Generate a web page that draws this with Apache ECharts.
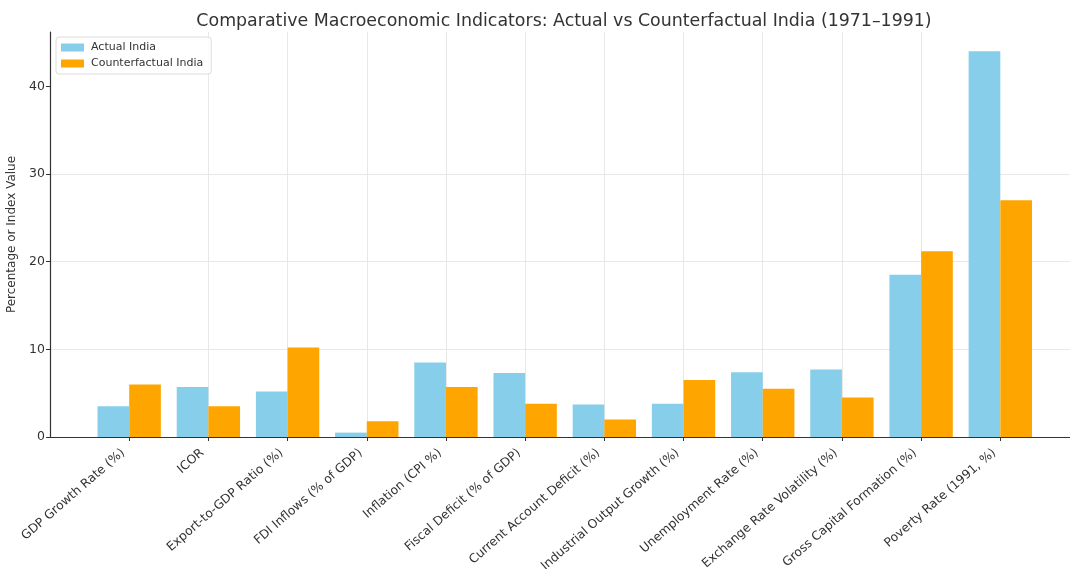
<!DOCTYPE html>
<html>
<head>
<meta charset="utf-8">
<script src="https://cdn.jsdelivr.net/npm/echarts@6/dist/echarts.min.js"></script>
<style>
html,body{margin:0;padding:0;background:#fff;}
#chart{width:1070px;height:569px;}
</style>
</head>
<body>
<div id="chart"></div>
<script>
var categories = [
  "GDP Growth Rate (%)", "ICOR", "Export-to-GDP Ratio (%)", "FDI Inflows (% of GDP)",
  "Inflation (CPI %)", "Fiscal Deficit (% of GDP)", "Current Account Deficit (%)",
  "Industrial Output Growth (%)", "Unemployment Rate (%)", "Exchange Rate Volatility (%)",
  "Gross Capital Formation (%)", "Poverty Rate (1991, %)"
];
var actualIndia = [3.5, 5.7, 5.2, 0.5, 8.5, 7.3, 3.7, 3.8, 7.4, 7.7, 18.5, 44.0];
var counterfactualIndia = [6.0, 3.5, 10.2, 1.8, 5.7, 3.8, 2.0, 6.5, 5.5, 4.5, 21.2, 27.0];
var yTicks = [0, 10, 20, 30, 40];
var seriesNames = ["Actual India", "Counterfactual India"];

var FONT = "DejaVu Sans";
var tickIdx = categories.map(function (c, i) { return i; });

function toPairs(arr) { return arr.map(function (v, i) { return [i, v]; }); }

var chart = echarts.init(document.getElementById('chart'), null, { renderer: 'canvas' });
chart.setOption({
  animation: false,
  backgroundColor: '#ffffff',
  title: {
    text: "Comparative Macroeconomic Indicators: Actual vs Counterfactual India (1971\u20131991)",
    left: 559, textAlign: 'center', top: 8,
    textStyle: { fontFamily: FONT, fontSize: 17.4, fontWeight: 'normal', color: '#333' }
  },
  legend: {
    orient: 'vertical', left: 56, top: 37,
    data: seriesNames,
    itemWidth: 23, itemHeight: 8, itemGap: 5,
    padding: [5, 8, 5, 5],
    borderColor: '#dcdcdc', borderWidth: 1, borderRadius: 3,
    backgroundColor: 'rgba(255,255,255,0.8)',
    icon: 'rect',
    textStyle: { fontFamily: FONT, fontSize: 11, color: '#333', padding: [0, 0, 0, 2] }
  },
  grid: { left: 50, right: 0, top: 32, bottom: 132, outerBoundsMode: 'none', containLabel: false },
  xAxis: {
    type: 'value', min: -1, max: 11.88, interval: 1,
    axisLine: { show: true, onZero: false, lineStyle: { color: '#333', width: 1.2 } },
    axisTick: { show: true, length: 4, customValues: tickIdx, lineStyle: { color: '#333' } },
    axisLabel: {
      customValues: tickIdx,
      rotate: 41, margin: 9, padding: [0, 8, 0, 0],
      fontFamily: FONT, fontSize: 12.3, color: '#333',
      formatter: function (v) { var i = Math.round(v); return (Math.abs(v - i) < 1e-6 && categories[i]) ? categories[i] : ''; }
    },
    splitLine: { show: true, showMinLine: false, showMaxLine: false, lineStyle: { color: '#e8e8e8', width: 1 } }
  },
  yAxis: {
    type: 'value', min: 0, max: 46.2, interval: 10,
    name: 'Percentage or Index Value', nameLocation: 'middle', nameGap: 22,
    nameTextStyle: { fontFamily: FONT, fontSize: 12, color: '#333' },
    axisLine: { show: true, onZero: false, lineStyle: { color: '#333', width: 1.2 } },
    axisTick: { show: true, length: 4, customValues: yTicks, lineStyle: { color: '#333' } },
    axisLabel: {
      customValues: yTicks, margin: 5,
      fontFamily: FONT, fontSize: 12.5, color: '#333',
      formatter: function (v) { return (v % 10 === 0) ? String(v) : ''; }
    },
    splitLine: { show: true, showMinLine: false, showMaxLine: false, lineStyle: { color: '#e8e8e8', width: 1 } }
  },
  series: [
    {
      name: seriesNames[0], type: 'bar', data: toPairs(actualIndia),
      barWidth: '40%', barGap: '0%',
      itemStyle: { color: '#87CEEB' }
    },
    {
      name: seriesNames[1], type: 'bar', data: toPairs(counterfactualIndia),
      barWidth: '40%', barGap: '0%',
      itemStyle: { color: '#FFA500' }
    }
  ]
});
</script>
</body>
</html>
